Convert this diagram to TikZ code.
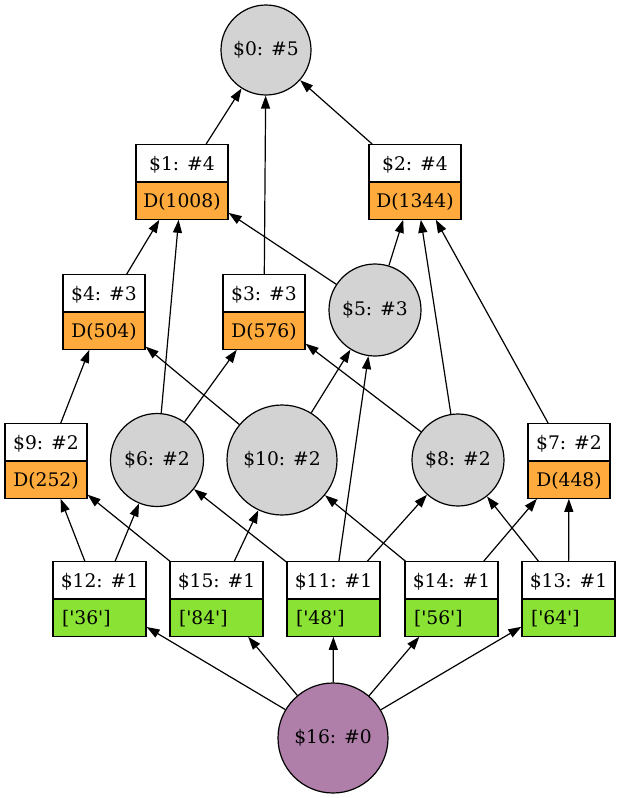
\documentclass[tikz,border=0pt]{standalone}
\usepackage{fontspec}
\setmainfont{DejaVu Serif}
\usetikzlibrary{arrows.meta,shapes.multipart}

\definecolor{dorange}{RGB}{255,170,60}
\definecolor{lgreen}{RGB}{138,226,52}
\definecolor{lgray}{RGB}{211,211,211}
\definecolor{mauve}{RGB}{175,127,170}

\newcommand{\recstrut}{\rule[-11pt]{0pt}{36pt}}
\newcommand{\cpart}[2]{\makebox[#1]{\recstrut#2}}
\newcommand{\lpart}[2]{\makebox[#1][l]{\recstrut#2}}
\newcommand{\q}{\textquotesingle}

\tikzset{
    every node/.style={font=\fontsize{18.7}{22}\selectfont},
    op/.style={circle, draw, fill=lgray, line width=1.2pt, inner sep=0pt},
    rec/.style={rectangle split, rectangle split parts=2, draw, line width=1.2pt,
        inner xsep=9pt, inner ysep=0pt},
    drec/.style={rec, rectangle split part fill={white,dorange}},
    lrec/.style={rec, rectangle split part fill={white,lgreen}},
    dep/.style={-{Triangle[length=13pt,width=9pt]}, line width=1.2pt}
}

\begin{document}
\begin{tikzpicture}[x=1pt,y=-1pt]
    \useasboundingbox (0,0) rectangle (621,798);

    \node[op, minimum size=90pt] (n0) at (266,50) {\$0: \#5};

    \node[drec] (n1) at (182,182) {\cpart{74pt}{\$1: \#4}\nodepart{two}\cpart{74pt}{D(1008)}};
    \node[drec] (n2) at (415,182) {\cpart{74pt}{\$2: \#4}\nodepart{two}\cpart{74pt}{D(1344)}};

    \node[drec] (n4) at (104,312) {\cpart{64pt}{\$4: \#3}\nodepart{two}\cpart{64pt}{D(504)}};
    \node[drec] (n3) at (264,312) {\cpart{64pt}{\$3: \#3}\nodepart{two}\cpart{64pt}{D(576)}};
    \node[op, minimum size=92pt] (n5) at (375,310) {\$5: \#3};

    \node[drec] (n9) at (46,461) {\cpart{64pt}{\$9: \#2}\nodepart{two}\cpart{64pt}{D(252)}};
    \node[op, minimum size=93pt] (n6) at (157,460) {\$6: \#2};
    \node[op, minimum size=110pt] (n10) at (282,460) {\$10: \#2};
    \node[op, minimum size=92pt] (n8) at (458,460) {\$8: \#2};
    \node[drec] (n7) at (569,461) {\cpart{64pt}{\$7: \#2}\nodepart{two}\cpart{64pt}{D(448)}};

    \node[lrec] (n12) at (99.5,599) {\cpart{75pt}{\$12: \#1}\nodepart{two}\lpart{75pt}{[\q36\q]}};
    \node[lrec] (n15) at (216.5,599) {\cpart{75pt}{\$15: \#1}\nodepart{two}\lpart{75pt}{[\q84\q]}};
    \node[lrec] (n11) at (333.5,599) {\cpart{75pt}{\$11: \#1}\nodepart{two}\lpart{75pt}{[\q48\q]}};
    \node[lrec] (n14) at (451.5,599) {\cpart{75pt}{\$14: \#1}\nodepart{two}\lpart{75pt}{[\q56\q]}};
    \node[lrec] (n13) at (568.5,599) {\cpart{75pt}{\$13: \#1}\nodepart{two}\lpart{75pt}{[\q64\q]}};

    \node[op, fill=mauve, minimum size=110pt] (n16) at (333,738) {\$16: \#0};

    \draw[dep] (n1) -- (n0);
    \draw[dep] (n3) -- (n0);
    \draw[dep] (n2) -- (n0);
    \draw[dep] (n4) -- (n1);
    \draw[dep] (n6) -- (n1);
    \draw[dep] (n5) -- (n1);
    \draw[dep] (n5) -- (n2);
    \draw[dep] (n8) -- (n2);
    \draw[dep] (n7) -- (n2);
    \draw[dep] (n9) -- (n4);
    \draw[dep] (n10) -- (n4);
    \draw[dep] (n6) -- (n3);
    \draw[dep] (n8) -- (n3);
    \draw[dep] (n10) -- (n5);
    \draw[dep] (n11) -- (n5);
    \draw[dep] (n12) -- (n9);
    \draw[dep] (n15) -- (n9);
    \draw[dep] (n12) -- (n6);
    \draw[dep] (n11) -- (n6);
    \draw[dep] (n15) -- (n10);
    \draw[dep] (n14) -- (n10);
    \draw[dep] (n11) -- (n8);
    \draw[dep] (n13) -- (n8);
    \draw[dep] (n14) -- (n7);
    \draw[dep] (n13) -- (n7);
    \draw[dep] (n16) -- (n12);
    \draw[dep] (n16) -- (n15);
    \draw[dep] (n16) -- (n11);
    \draw[dep] (n16) -- (n14);
    \draw[dep] (n16) -- (n13);
\end{tikzpicture}
\end{document}
